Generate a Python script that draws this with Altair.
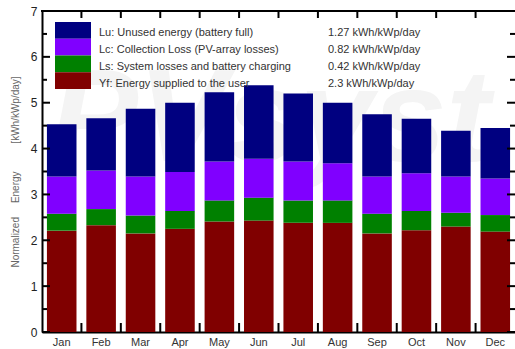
import altair as alt
import pandas as pd

# Monthly normalized energies, kWh/kWp/day (stacked bottom-up: Yf, Ls, Lc, Lu)
months = ["Jan", "Feb", "Mar", "Apr", "May", "Jun", "Jul", "Aug", "Sep", "Oct", "Nov", "Dec"]
yf = [2.21, 2.33, 2.15, 2.25, 2.41, 2.43, 2.38, 2.38, 2.15, 2.22, 2.30, 2.19]
ls = [0.37, 0.35, 0.39, 0.39, 0.46, 0.50, 0.49, 0.49, 0.43, 0.42, 0.30, 0.36]
lc = [0.81, 0.84, 0.85, 0.85, 0.85, 0.85, 0.85, 0.81, 0.81, 0.82, 0.79, 0.80]
lu = [1.14, 1.14, 1.48, 1.51, 1.51, 1.60, 1.48, 1.32, 1.36, 1.19, 1.00, 1.10]

series_keys = ["Lu", "Lc", "Ls", "Yf"]
series_labels = [
    "Lu: Unused energy (battery full)",
    "Lc: Collection Loss (PV-array losses)",
    "Ls: System losses and battery charging",
    "Yf: Energy supplied to the user",
]
series_annual = ["1.27 kWh/kWp/day", "0.82 kWh/kWp/day", "0.42 kWh/kWp/day", "2.3 kWh/kWp/day"]
series_colors = ["#000080", "#8000ff", "#008000", "#800000"]

major_ticks = [0, 1, 2, 3, 4, 5, 6, 7]
minor_ticks = [0.5, 1.5, 2.5, 3.5, 4.5, 5.5, 6.5]

W, H = 473, 321
FONT = "Liberation Sans"
NB = "\u00a0"
Y_TITLE = "Normalized" + NB * 5 + "Energy" + NB * 10 + "[kWh/kWp/day]"

values_by_key = {"Yf": yf, "Ls": ls, "Lc": lc, "Lu": lu}
stack_rank = {"Yf": 0, "Ls": 1, "Lc": 2, "Lu": 3}
rows = []
for key in ["Yf", "Ls", "Lc", "Lu"]:
    for m, v in zip(months, values_by_key[key]):
        rows.append({"month": m, "key": key, "value": v, "rank": stack_rank[key]})
df = pd.DataFrame(rows)

legend_df = pd.DataFrame({"key": series_keys, "label": series_labels, "annual": series_annual})

yscale = alt.Scale(domain=[0, 7], nice=False, zero=True)
xscale = alt.Scale(domain=months, paddingInner=0, paddingOuter=0)
cscale = alt.Scale(domain=series_keys, range=series_colors)

# faint background logo text, kept inside the plot area
watermark = alt.Chart(pd.DataFrame({"t": ["PVsyst"]})).mark_text(
    font=FONT, fontSize=132, fontWeight="bold", fontStyle="italic",
    color="#f4f4f4", align="left", baseline="alphabetic",
).encode(x=alt.value(8), y=alt.value(150), text="t:N")

bars = alt.Chart(df).mark_bar(width=alt.RelativeBandSize(0.75)).encode(
    x=alt.X("month:N", sort=months, scale=xscale, title=None,
            axis=alt.Axis(labelAngle=0, ticks=False, domainWidth=2, domainColor="black",
                          labelFontSize=11, labelColor="#333333", labelPadding=4, grid=False)),
    y=alt.Y("value:Q", stack="zero", scale=yscale, title=Y_TITLE,
            axis=alt.Axis(values=major_ticks, ticks=False, grid=False, domainWidth=2,
                          domainColor="black", labelFontSize=12, labelColor="#222222",
                          labelPadding=5, titleFontSize=10, titleFontWeight="normal",
                          titleColor="#666666", titleX=-27, titleY=H / 2, titleAngle=270,
                          titleAlign="center", titleBaseline="middle")),
    color=alt.Color("key:N", scale=cscale, legend=None),
    order=alt.Order("rank:Q", sort="ascending"),
)

major_src = alt.Chart(pd.DataFrame({"v": major_ticks}))
minor_src = alt.Chart(pd.DataFrame({"v": minor_ticks}))
month_src = alt.Chart(pd.DataFrame({"month": months[1:]}))

left_major = major_src.mark_rule(color="black", strokeWidth=2).encode(
    y=alt.Y("v:Q", scale=yscale, title=Y_TITLE), x=alt.value(0), x2=alt.value(8))
left_minor = minor_src.mark_rule(color="black", strokeWidth=2).encode(
    y=alt.Y("v:Q", scale=yscale, title=Y_TITLE), x=alt.value(0), x2=alt.value(5))
right_major = major_src.mark_rule(color="black", strokeWidth=2).encode(
    y=alt.Y("v:Q", scale=yscale, title=Y_TITLE), x=alt.value(W), x2=alt.value(W - 8))
right_minor = minor_src.mark_rule(color="black", strokeWidth=2).encode(
    y=alt.Y("v:Q", scale=yscale, title=Y_TITLE), x=alt.value(W), x2=alt.value(W - 5))

bottom_ticks = month_src.mark_rule(color="black", strokeWidth=2).encode(
    x=alt.X("month:N", sort=months, scale=xscale, bandPosition=0, title=None),
    y=alt.value(H), y2=alt.value(H - 9))
top_ticks = month_src.mark_rule(color="black", strokeWidth=2).encode(
    x=alt.X("month:N", sort=months, scale=xscale, bandPosition=0, title=None),
    y=alt.value(0), y2=alt.value(7))

top_line = alt.Chart(pd.DataFrame({"v": [7]})).mark_rule(color="black", strokeWidth=2).encode(
    y=alt.Y("v:Q", scale=yscale, title=Y_TITLE), x=alt.value(-1), x2=alt.value(W))

plot = alt.layer(watermark, bars, left_major, left_minor, right_major, right_minor,
                 bottom_ticks, top_ticks, top_line)

# Legend block: swatches stacked in one column, description and annual value per row
leg_y = alt.Y("key:N", scale=alt.Scale(domain=series_keys, range=[11, 78],
                                       paddingInner=0, paddingOuter=0), axis=None)
leg_base = alt.Chart(legend_df)
leg_swatch = leg_base.mark_rect().encode(
    x=alt.value(13), x2=alt.value(49), y=leg_y,
    color=alt.Color("key:N", scale=cscale, legend=None))
leg_label = leg_base.mark_text(align="left", baseline="middle", dy=3, fontSize=11,
                               font=FONT, color="#333333").encode(
    x=alt.value(57), y=leg_y, text="label:N")
leg_value = leg_base.mark_text(align="left", baseline="middle", dy=3, fontSize=11,
                               font=FONT, color="#333333").encode(
    x=alt.value(286), y=leg_y, text="annual:N")
legend_block = alt.layer(leg_swatch, leg_label, leg_value)

chart = alt.layer(plot, legend_block).resolve_scale(y="independent").properties(
    width=W, height=H,
    autosize=alt.AutoSizeParams(type="none"),
    padding={"left": 42, "top": 11, "right": 0, "bottom": 17},
).configure(font=FONT, background="white").configure_view(strokeWidth=0)

chart.save("out.html", embed_options={"renderer": "svg", "actions": False})
